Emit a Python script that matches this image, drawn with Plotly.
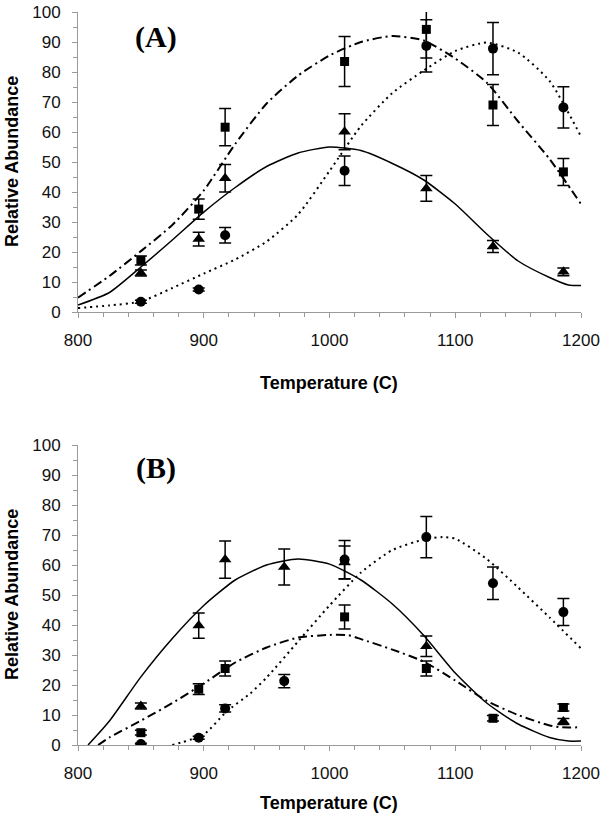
import plotly.graph_objects as go

# ---------------- data ----------------
temps = [850, 896, 917, 1012, 1077, 1130, 1186]
temps_b = [850, 896, 917, 964, 1012, 1077, 1130, 1186]

# Panel A measured points
a_sq = [17.2, 34.3, 61.6, 83.5, 94.2, 69.0, 46.7]
a_sq_err = [1.5, 3.4, 6.2, 8.3, 9.5, 6.8, 4.5]
a_ci = [3.4, 7.5, 25.6, 47.1, 88.7, 87.8, 68.2]
a_ci_err = [0.5, 0.5, 2.6, 4.9, 8.7, 8.7, 6.9]
a_tr = [13.0, 24.3, 44.6, 60.1, 41.2, 21.8, 13.4]
a_tr_err = [1.0, 2.3, 4.6, 6.0, 4.3, 2.0, 1.3]

# Panel A fitted curves
a_tr_fit_x = [800, 825, 850, 875, 900, 925, 950, 975, 1000, 1025, 1050, 1075, 1100, 1125, 1150, 1175, 1190, 1200]
a_tr_fit_y = [2.3, 6.5, 15.0, 24.0, 33.3, 41.5, 48.5, 53.0, 55.0, 53.8, 49.5, 44.0, 36.0, 26.0, 17.0, 11.5, 9.0, 8.8]
a_sq_fit_x = [800, 825, 850, 875, 900, 925, 950, 975, 1000, 1025, 1050, 1075, 1100, 1125, 1150, 1175, 1200]
a_sq_fit_y = [4.8, 12.0, 20.3, 29.0, 40.5, 56.0, 69.5, 78.8, 85.5, 90.0, 92.0, 90.5, 84.5, 76.5, 63.5, 51.0, 36.0]
a_ci_fit_x = [800, 825, 850, 875, 900, 925, 950, 975, 1000, 1025, 1050, 1075, 1100, 1125, 1150, 1175, 1200]
a_ci_fit_y = [1.3, 2.2, 3.5, 8.0, 12.8, 17.5, 23.5, 32.5, 47.0, 62.0, 73.0, 80.5, 87.0, 89.8, 86.5, 77.0, 58.5]

# Panel B measured points
b_sq = [4.1, 18.6, 25.5, None, 42.7, 25.5, 8.9, 12.5]
b_sq_err = [0.8, 1.8, 2.5, 0, 4.0, 2.5, 0.9, 1.2]
b_ci = [0.3, 2.4, 12.2, 21.3, 61.8, 69.3, 53.9, 44.3]
b_ci_err = [0.3, 0.5, 1.2, 2.2, 6.4, 6.9, 5.4, 4.5]
b_tr = [13.0, 39.8, 61.8, 59.3, 60.8, 32.9, None, 7.8]
b_tr_err = [1.0, 4.2, 6.2, 6.0, 5.5, 3.4, 0, 1.0]

# Panel B fitted curves
b_tr_fit_x = [808, 825, 850, 875, 900, 925, 950, 975, 1000, 1025, 1050, 1075, 1100, 1125, 1150, 1175, 1190, 1200]
b_tr_fit_y = [0.0, 8.0, 22.7, 35.5, 46.5, 55.0, 60.0, 62.0, 60.3, 55.0, 47.0, 36.5, 24.0, 14.0, 7.0, 2.5, 1.3, 1.3]
b_sq_fit_x = [816, 825, 850, 875, 900, 925, 950, 975, 1000, 1015, 1025, 1050, 1075, 1100, 1125, 1150, 1175, 1185, 1200]
b_sq_fit_y = [0.0, 2.5, 8.1, 14.0, 20.5, 27.5, 32.5, 35.8, 36.7, 36.6, 35.3, 31.8, 27.8, 21.5, 14.7, 10.0, 6.5, 5.9, 5.9]
b_ci_fit_x = [875, 900, 918, 937, 950, 975, 1000, 1025, 1050, 1075, 1090, 1100, 1125, 1150, 1175, 1200]
b_ci_fit_y = [0.0, 3.5, 11.1, 17.2, 22.5, 34.5, 46.5, 57.5, 65.0, 68.5, 69.3, 68.8, 62.0, 52.5, 42.5, 32.2]

x_ticks = [800, 900, 1000, 1100, 1200]
y_ticks = list(range(0, 101, 10))
panel_labels = ["(A)", "(B)"]
x_title = "Temperature (C)"
y_title = "Relative Abundance"

# ---------------- figure ----------------
fig = go.Figure()

SOLID = "solid"
DASHDOT = "9px,4px,2px,4px"
DOT = "2px,4px"


def add_fit(x, y, dash, width, xa, ya):
    fig.add_trace(go.Scatter(x=x, y=y, mode="lines",
                             line=dict(color="black", width=width, dash=dash, shape="spline", smoothing=0.6),
                             xaxis=xa, yaxis=ya, showlegend=False, hoverinfo="skip"))


def add_pts(x, y, err, symbol, size, xa, ya):
    fig.add_trace(go.Scatter(x=x, y=y, mode="markers",
                             marker=dict(symbol=symbol, color="black", size=size),
                             error_y=dict(type="data", array=err, color="black", thickness=1.5, width=6),
                             xaxis=xa, yaxis=ya, showlegend=False))


# Panel A
add_fit(a_tr_fit_x, a_tr_fit_y, SOLID, 1.5, "x", "y")
add_fit(a_sq_fit_x, a_sq_fit_y, DASHDOT, 2, "x", "y")
add_fit(a_ci_fit_x, a_ci_fit_y, DOT, 2, "x", "y")
add_pts(temps, a_sq, a_sq_err, "square", 9, "x", "y")
add_pts(temps, a_ci, a_ci_err, "circle", 10, "x", "y")
add_pts(temps, a_tr, a_tr_err, "triangle-up", 11, "x", "y")

# Panel B
add_fit(b_tr_fit_x, b_tr_fit_y, SOLID, 1.5, "x2", "y2")
add_fit(b_sq_fit_x, b_sq_fit_y, DASHDOT, 2, "x2", "y2")
add_fit(b_ci_fit_x, b_ci_fit_y, DOT, 2, "x2", "y2")
add_pts(temps_b, b_sq, b_sq_err, "square", 9, "x2", "y2")
add_pts(temps_b, b_ci, b_ci_err, "circle", 10, "x2", "y2")
add_pts(temps_b, b_tr, b_tr_err, "triangle-up", 11, "x2", "y2")

W, H = 606, 820
ML, MR, MT, MB = 78, 25, 12, 75
PH = H - MT - MB
PW = W - ML - MR
dA = [1 - 300 / PH, 1]
dB = [0, 300 / PH]

tickfont = dict(family="Liberation Sans, Arial, sans-serif", size=17, color="#111")
xax = dict(range=[800, 1200], tickvals=x_ticks, showgrid=False, zeroline=False,
           showline=True, linecolor="#9a9a9a", linewidth=1, ticks="outside", ticklen=5,
           tickcolor="#9a9a9a", tickfont=tickfont, ticklabelstandoff=8,
           minor=dict(dtick=20, ticks="outside", ticklen=4, tickcolor="#9a9a9a"),
           fixedrange=True)
yax = dict(range=[0, 100], tickvals=y_ticks, showgrid=False, zeroline=False,
           showline=True, linecolor="#9a9a9a", linewidth=1, ticks="outside", ticklen=5,
           tickcolor="#9a9a9a", tickfont=tickfont, ticklabelstandoff=8,
           minor=dict(dtick=5, ticks="outside", ticklen=4, tickcolor="#9a9a9a"),
           fixedrange=True)

fig.update_layout(
    width=W, height=H,
    margin=dict(l=ML, r=MR, t=MT, b=MB, autoexpand=False),
    paper_bgcolor="white", plot_bgcolor="white",
    xaxis=dict(**xax, domain=[0, 1], anchor="y"),
    yaxis=dict(**yax, domain=dA, anchor="x"),
    xaxis2=dict(**xax, domain=[0, 1], anchor="y2"),
    yaxis2=dict(**yax, domain=dB, anchor="x2"),
)


def px2paper(px, py):
    return (px - ML) / PW, (H - MB - py) / PH


titlefont = dict(family="Liberation Sans, Arial, sans-serif", size=18, color="black")
labelfont = dict(family="Liberation Serif, Times New Roman, serif", size=30, color="black")

ann = []
for i, (ycen, xt_y, lab_y) in enumerate([(162, 383, 37), (595, 803, 468)]):
    x0, y0 = px2paper(12, ycen)
    ann.append(dict(x=x0, y=y0, xref="paper", yref="paper", text="<b>%s</b>" % y_title,
                    textangle=-90, showarrow=False, font=titlefont, xanchor="center", yanchor="middle"))
    x1, y1 = px2paper(329, xt_y)
    ann.append(dict(x=x1, y=y1, xref="paper", yref="paper", text="<b>%s</b>" % x_title,
                    showarrow=False, font=titlefont, xanchor="center", yanchor="middle"))
    x2, y2 = px2paper(156, lab_y)
    ann.append(dict(x=x2, y=y2, xref="paper", yref="paper", text="<b>%s</b>" % panel_labels[i],
                    showarrow=False, font=labelfont, xanchor="center", yanchor="middle"))
fig.update_layout(annotations=ann)

fig.write_html(
    "out.html",
    config={"displayModeBar": False},
    post_script="document.body.style.margin='0';document.body.style.overflow='hidden';",
)
